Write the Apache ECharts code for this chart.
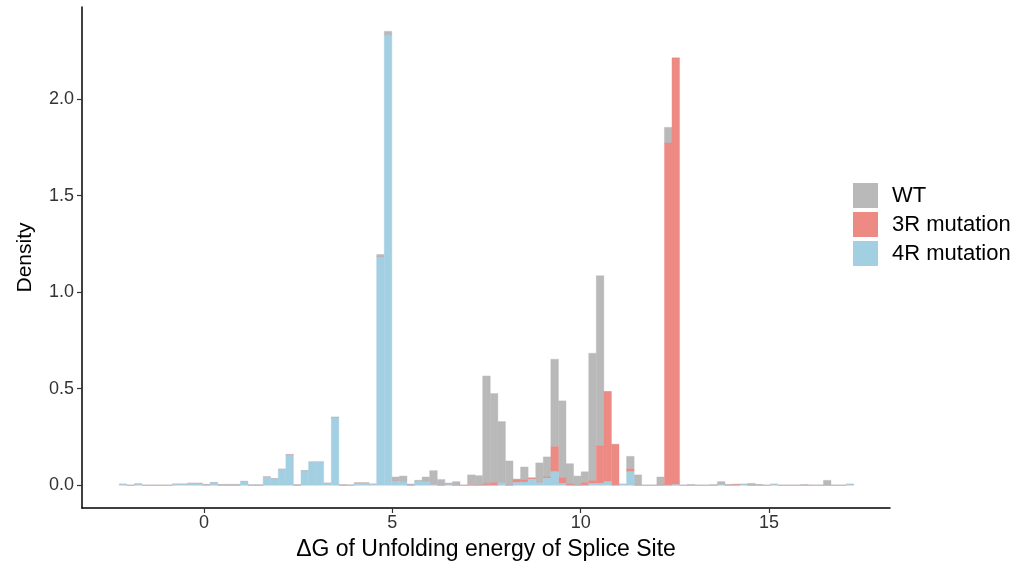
<!DOCTYPE html>
<html>
<head>
<meta charset="utf-8">
<script src="https://cdn.jsdelivr.net/npm/echarts@6/dist/echarts.min.js"></script>
<style>
html, body { margin: 0; padding: 0; background: #fff; }
#chart { width: 1016px; height: 575px; }
</style>
</head>
<body>
<div id="chart"></div>
<script>
// histogram bins (density per bin)
var binStart = -2.25;
var binWidth = 0.201;

var seriesNames = ['WT', '3R mutation', '4R mutation'];

var wt = [
  0, 0, 0.003, 0, 0, 0, 0, 0.002, 0.002, 0,
  0, 0.003, 0, 0.005, 0.005, 0.005, 0, 0.003, 0.003, 0,
  0, 0, 0.003, 0.004, 0, 0, 0, 0.002, 0.004, 0.004,
  0.002, 0, 0, 0.002, 0.015, 0.018, 0.021, 0.029, 0.007, 0.006,
  0.023, 0.072, 0.03, 0.008, 0.019, 0, 0.051, 0.05, 0.556, 0.461,
  0.316, 0.126, 0, 0.067, 0, 0.099, 0.104, 0.453, 0.397, 0.103,
  0.048, 0.056, 0.66, 0.88, 0, 0, 0, 0.065, 0.054, 0,
  0, 0.043, 0.081, 0, 0, 0.004, 0, 0, 0.003, 0.015,
  0.005, 0, 0, 0.01, 0.005, 0, 0, 0, 0, 0,
  0.004, 0, 0, 0.026, 0, 0, 0
];

var r3 = [
  0, 0, 0, 0, 0, 0, 0, 0, 0, 0,
  0, 0, 0, 0, 0, 0, 0, 0, 0, 0,
  0, 0, 0, 0, 0, 0, 0, 0, 0, 0,
  0, 0, 0, 0, 0, 0, 0, 0, 0, 0,
  0, 0, 0, 0, 0, 0, 0.003, 0, 0.01, 0.014,
  0, 0, 0.017, 0.011, 0.007, 0.003, 0.007, 0.13, 0.031, 0.009,
  0, 0.014, 0.015, 0.196, 0.466, 0.212, 0, 0.015, 0, 0,
  0, 0, 1.772, 2.209, 0, 0, 0, 0, 0, 0,
  0, 0.005, 0, 0, 0, 0, 0, 0, 0, 0,
  0, 0, 0, 0, 0, 0, 0
];

var r4 = [
  0.005, 0, 0.005, 0, 0, 0, 0, 0.005, 0.005, 0.01,
  0.01, 0.002, 0.014, 0, 0, 0, 0.02, 0, 0, 0.043,
  0.035, 0.083, 0.157, 0, 0.076, 0.12, 0.12, 0.01, 0.35, 0,
  0, 0.012, 0.012, 0.005, 1.18, 2.332, 0.022, 0.019, 0, 0.02,
  0.02, 0.004, 0, 0.004, 0, 0, 0, 0, 0, 0,
  0.014, 0, 0.014, 0.017, 0.031, 0.014, 0.036, 0.07, 0.009, 0,
  0, 0, 0.009, 0.009, 0.019, 0, 0.005, 0.07, 0, 0,
  0, 0, 0, 0.003, 0, 0, 0, 0, 0, 0.004,
  0, 0, 0.005, 0, 0, 0, 0.005, 0, 0, 0,
  0, 0, 0, 0, 0, 0, 0.005
];

var xTicks = [0, 5, 10, 15];
var yTicks = [0, 0.5, 1, 1.5, 2];
var colors = ['#b9b9b9', '#ec8a83', '#a3cfe2'];

// stack: 4R at the bottom, then 3R, WT on top (ggplot stacking order)
var stacked = {};
var base = wt.map(function () { return 0; });
[[2, r4], [1, r3], [0, wt]].forEach(function (pair) {
  var rows = [];
  pair[1].forEach(function (v, k) {
    var left = binStart + k * binWidth;
    rows.push([left, left + binWidth, base[k], base[k] + v]);
    base[k] += v;
  });
  stacked[pair[0]] = rows;
});

function renderBar(params, api) {
  var a = api.coord([api.value(0), api.value(3)]);
  var b = api.coord([api.value(1), api.value(2)]);
  var color = api.visual('color');
  return {
    type: 'rect',
    shape: { x: a[0], y: a[1], width: b[0] - a[0], height: b[1] - a[1] },
    style: { fill: color, stroke: color, lineWidth: 0.4 }
  };
}

var chart = echarts.init(document.getElementById('chart'));

var option = {
  animation: false,
  textStyle: { fontFamily: 'Liberation Sans, Arial, sans-serif' },
  grid: { left: 82, right: 126, top: 7, bottom: 67 },
  legend: {
    orient: 'vertical',
    left: 848,
    top: 178,
    padding: 5,
    itemWidth: 25,
    itemHeight: 25,
    itemGap: 4,
    icon: 'rect',
    data: seriesNames,
    textStyle: { fontSize: 22, color: '#000', padding: [0, 0, 0, 9] }
  },
  xAxis: {
    type: 'value',
    min: -3.239,
    max: 18.21,
    name: 'ΔG of Unfolding energy of Splice Site',
    nameLocation: 'middle',
    nameGap: 30,
    nameTextStyle: { fontSize: 23, color: '#000' },
    splitLine: { show: false },
    axisLine: { onZero: false, lineStyle: { color: '#000', width: 1.5 } },
    axisTick: { customValues: xTicks, length: 5, lineStyle: { color: '#333', width: 1.2 } },
    axisLabel: { customValues: xTicks, fontSize: 18, color: '#333', margin: 6 }
  },
  yAxis: {
    type: 'value',
    min: -0.1175,
    max: 2.476,
    name: 'Density',
    nameLocation: 'middle',
    nameRotate: 90,
    nameGap: 46,
    nameTextStyle: { fontSize: 21, color: '#000' },
    splitLine: { show: false },
    axisLine: { show: true, onZero: false, lineStyle: { color: '#000', width: 1.5 } },
    axisTick: { show: true, customValues: yTicks, length: 5, lineStyle: { color: '#333', width: 1.2 } },
    axisLabel: {
      customValues: yTicks, fontSize: 18, color: '#333', margin: 8,
      formatter: function (v) { return v.toFixed(1); }
    }
  },
  series: seriesNames.map(function (name, i) {
    return {
      name: name,
      type: 'custom',
      renderItem: renderBar,
      itemStyle: { color: colors[i] },
      encode: { x: [0, 1], y: [2, 3] },
      data: stacked[i]
    };
  })
};

chart.setOption(option);
</script>
</body>
</html>
